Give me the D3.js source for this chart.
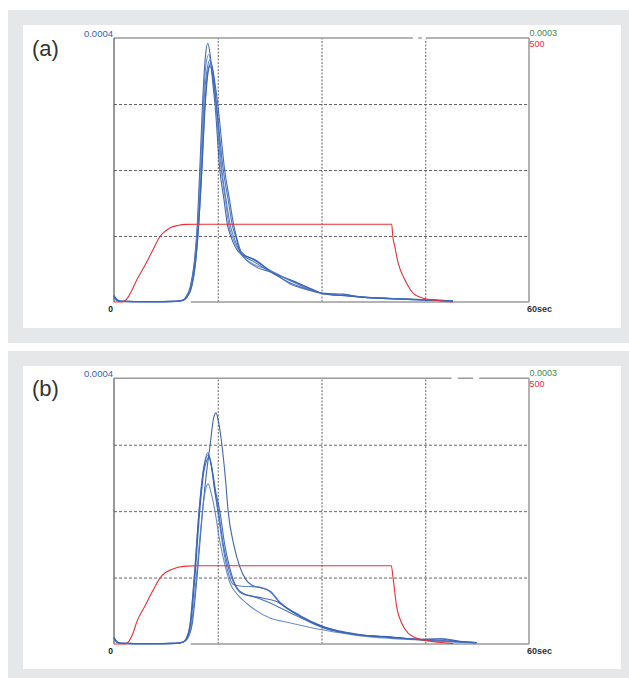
<!DOCTYPE html>
<html><head><meta charset="utf-8">
<script src="https://cdn.jsdelivr.net/npm/d3@7"></script>
<style>html,body{margin:0;padding:0;background:#fff;} svg{display:block;}</style>
</head><body><svg id="c" width="629" height="678"></svg>
<script>
// ---------- data (time in sec, blue values in units of 1e-4, red on 0-500 scale) ----------
const panelLabels = ["(a)", "(b)"];
const xTickLabels = ["0", "60sec"];
const leftTopLabel = "0.0004";
const rightTopLabels = ["0.0003", "500"];
const xGridTicks = [15, 30, 45];
const yGridTicks = [1, 2, 3];

const blueA1 = [[0,0.09],[0.4,0.03],[1,0.01],[5,0.005],[9,0.01],[10,0.03],[10.4,0.08],[11,0.22],[11.6,0.6],[12.0,1.1],[12.4,2.0],[12.8,3.0],[13.2,3.7],[13.55,3.92],[13.9,3.75],[14.3,3.3],[14.6,3.0],[15.3,2.0],[15.9,1.55],[16.4,1.17],[16.9,0.99],[18.2,0.74],[20.4,0.64],[23.0,0.44],[25.7,0.33],[28.1,0.22],[30.5,0.12],[33.9,0.09],[36.3,0.07],[38.9,0.06],[42.5,0.045],[46.1,0.03],[49,0.02]];
const blueA2 = [[0,0.08],[0.4,0.03],[1,0.01],[5,0.006],[9,0.01],[10,0.03],[10.5,0.08],[11.1,0.22],[11.7,0.6],[12.1,1.1],[12.6,2.0],[13.0,3.0],[13.5,3.55],[13.9,3.67],[14.3,3.5],[14.8,3.0],[15.6,2.0],[16.2,1.55],[16.8,1.17],[17.3,0.99],[18.2,0.76],[20.4,0.54],[23.0,0.44],[25.7,0.26],[28.1,0.18],[30.5,0.12],[33.9,0.1],[36.3,0.075],[38.9,0.06],[42.5,0.04],[46.1,0.03],[49,0.02]];
const blueA3 = [[0,0.1],[0.4,0.04],[1,0.01],[5,0.005],[9,0.01],[10,0.025],[10.6,0.08],[11.2,0.22],[11.8,0.6],[12.2,1.1],[12.7,2.0],[13.2,3.0],[13.6,3.48],[14.0,3.62],[14.4,3.45],[15.0,3.0],[16.0,2.0],[16.7,1.55],[17.3,1.17],[17.7,0.99],[18.4,0.76],[20.4,0.63],[23.0,0.45],[25.7,0.32],[28.1,0.21],[30.5,0.13],[33.2,0.12],[35,0.085],[38.9,0.055],[42.5,0.04],[46.1,0.025],[49,0.015]];
const blueA4 = [[0,0.07],[0.4,0.02],[1,0.01],[5,0.004],[9,0.008],[10,0.03],[10.5,0.08],[11.0,0.2],[11.6,0.55],[12.0,1.05],[12.5,2.0],[12.9,3.0],[13.3,3.6],[13.7,3.75],[14.1,3.55],[14.7,3.0],[15.5,2.0],[16.1,1.55],[16.6,1.17],[17.1,0.99],[18.2,0.75],[20.4,0.56],[22.0,0.5],[23.5,0.43],[25.7,0.31],[28.1,0.2],[30.5,0.12],[33.9,0.095],[36.3,0.07],[38.9,0.058],[42.5,0.042],[46.1,0.028],[49,0.018]];
const blueA5 = [[0,0.09],[0.4,0.03],[1,0.012],[5,0.006],[9,0.01],[10,0.03],[10.6,0.08],[11.2,0.22],[11.8,0.62],[12.2,1.1],[12.7,2.0],[13.1,2.9],[13.5,3.45],[13.85,3.58],[14.3,3.4],[14.9,2.9],[15.8,2.0],[16.5,1.55],[17.1,1.17],[17.6,0.99],[18.3,0.75],[20.4,0.6],[23.0,0.43],[25.7,0.28],[28.1,0.19],[30.5,0.125],[33.9,0.09],[36.3,0.068],[38.9,0.055],[42.5,0.04],[46.1,0.027],[49,0.015]];
const redA = [[0,0],[1.2,0],[1.8,5],[2.5,20],[3.3,42],[4.5,70],[5.6,98],[6.65,124],[7.4,134],[8.2,141],[9.2,145],[10.5,147],[12,147.2],[40.15,147.2],[40.3,125],[40.6,105],[41.1,73],[42.07,41.7],[43.27,16.5],[44.7,7],[46.1,3.8],[48.6,0.5],[49,0]];

const blueB1 = [[0,0.09],[0.4,0.03],[1,0.01],[5,0.005],[9,0.01],[10,0.03],[10.6,0.08],[11.3,0.3],[12.0,1.0],[12.8,2.0],[13.4,2.6],[13.9,3.0],[14.4,3.4],[14.75,3.48],[15.1,3.35],[15.6,3.0],[16.1,2.5],[16.5,2.0],[17.3,1.5],[18.2,1.16],[19.0,0.98],[20.0,0.88],[21.5,0.84],[22.55,0.79],[24.0,0.62],[26.9,0.42],[30.3,0.25],[35.1,0.14],[39.9,0.11],[44,0.07],[47.5,0.08],[50,0.04],[52.4,0.02]];
const blueB2 = [[0,0.08],[0.4,0.03],[1,0.01],[5,0.005],[9,0.01],[10,0.03],[10.4,0.08],[11.0,0.3],[11.6,1.0],[12.3,2.0],[12.9,2.6],[13.55,2.88],[14.0,2.72],[14.5,2.35],[15.0,2.0],[15.7,1.5],[16.3,1.16],[17.2,0.9],[18.5,0.87],[20.6,0.86],[22.55,0.8],[24.0,0.63],[26.9,0.43],[30.3,0.26],[35.1,0.14],[39.9,0.1],[44,0.065],[48,0.04],[52.4,0.02]];
const blueB3 = [[0,0.1],[0.4,0.04],[1,0.01],[5,0.005],[9,0.01],[10,0.03],[10.5,0.08],[11.1,0.3],[11.7,1.0],[12.4,2.0],[13.0,2.6],[13.75,2.81],[14.2,2.62],[14.7,2.3],[15.3,2.0],[16.0,1.5],[16.7,1.16],[17.5,0.9],[18.7,0.76],[21.6,0.69],[23.5,0.64],[25.4,0.51],[27.9,0.36],[30.3,0.26],[35.1,0.15],[39.9,0.1],[44,0.07],[47,0.075],[49.5,0.04],[52.4,0.02]];
const blueB4 = [[0,0.08],[0.4,0.03],[1,0.01],[5,0.005],[9,0.01],[10,0.03],[10.6,0.08],[11.2,0.3],[11.9,1.0],[12.6,1.8],[13.1,2.25],[13.6,2.41],[14.1,2.25],[14.6,2.0],[15.2,1.6],[16.1,1.16],[16.8,0.91],[17.8,0.75],[19.2,0.61],[22.55,0.39],[25.4,0.32],[30.3,0.21],[35.1,0.13],[39.9,0.085],[44,0.06],[48,0.035],[52.4,0.015]];
const blueB5 = [[0,0.09],[0.4,0.03],[1,0.01],[5,0.005],[9,0.01],[10,0.03],[10.5,0.08],[11.0,0.3],[11.6,1.0],[12.3,2.0],[12.9,2.6],[13.65,2.85],[14.1,2.68],[14.6,2.3],[15.1,2.0],[15.8,1.5],[16.5,1.16],[17.3,0.92],[18.2,0.78],[20.5,0.7],[22.5,0.62],[24.5,0.52],[26.9,0.4],[30.3,0.24],[35.1,0.14],[39.9,0.1],[44,0.07],[48,0.05],[52.4,0.02]];
const redB = [[0,0],[1.6,0],[2.2,6],[2.8,22],[3.3,42],[4.5,72],[5.6,100],[6.65,124],[7.4,134],[8.3,140],[9.3,144.5],[10.5,146.5],[12,147.2],[40.1,147.2],[40.35,124],[40.87,70],[41.6,39],[42.55,20],[43.8,10.6],[46.2,4.4],[48.6,1.3],[49,0.5]];

// ---------- drawing ----------
const svg = d3.select("#c");
const FONT = "'Liberation Sans', Arial, Helvetica, sans-serif";
const blueColors = ["#2a55aa", "#4a72c0", "#2f5cb2", "#5a80c8", "#3a64b6"];

const panels = [
  {label: panelLabels[0], blue: [blueA1, blueA2, blueA3, blueA4, blueA5], red: redA,
   grey: [8, 10, 640, 333], white: [23, 25, 598, 303], left: 114, right: 529, top: 38, bottom: 302,
   gaps: [[43.2, 44.0], [44.5, 45.1]]},
  {label: panelLabels[1], blue: [blueB1, blueB2, blueB3, blueB4, blueB5], red: redB,
   grey: [8, 351, 640, 340], white: [23, 366, 598, 303], left: 114, right: 529, top: 378.3, bottom: 644,
   gaps: [[48.8, 49.7], [51.9, 52.8]]}
];

panels.forEach(p => {
  svg.append("rect").attr("x", p.grey[0]).attr("y", p.grey[1]).attr("width", p.grey[2]).attr("height", p.grey[3]).attr("fill", "#e6e7e8");
  svg.append("rect").attr("x", p.white[0]).attr("y", p.white[1]).attr("width", p.white[2]).attr("height", p.white[3]).attr("fill", "#fff");

  const x = d3.scaleLinear().domain([0, 60]).range([p.left, p.right]);
  const yB = d3.scaleLinear().domain([0, 4]).range([p.bottom, p.top]);
  const yR = d3.scaleLinear().domain([0, 500]).range([p.bottom, p.top]);
  const g = svg.append("g");

  // horizontal grid
  const hg = g.append("g").attr("transform", `translate(${p.left},0)`)
    .call(d3.axisLeft(yB).tickValues(yGridTicks).tickSize(-(p.right - p.left)).tickFormat(""));
  hg.select(".domain").remove();
  hg.selectAll("line").attr("stroke", "#555").attr("stroke-width", 0.9).attr("stroke-dasharray", "3,2");
  // vertical grid
  const vg = g.append("g").attr("transform", `translate(0,${p.bottom})`)
    .call(d3.axisBottom(x).tickValues(xGridTicks).tickSize(-(p.bottom - p.top)).tickFormat(""));
  vg.select(".domain").remove();
  vg.selectAll("line").attr("stroke", "#666").attr("stroke-width", 1).attr("stroke-dasharray", "2,1.5");

  // frame
  g.append("line").attr("x1", x(0)).attr("x2", x(60)).attr("y1", p.top).attr("y2", p.top).attr("stroke", "#9a9a9a").attr("stroke-width", 1.5);
  p.gaps.forEach(gp => g.append("rect").attr("x", x(gp[0])).attr("y", p.top - 1.5).attr("width", x(gp[1]) - x(gp[0])).attr("height", 3).attr("fill", "#fff"));
  g.append("line").attr("x1", x(60)).attr("x2", x(60)).attr("y1", p.top).attr("y2", p.bottom).attr("stroke", "#9a9a9a").attr("stroke-width", 1.5);
  g.append("line").attr("x1", x(11.1)).attr("x2", x(60)).attr("y1", p.bottom).attr("y2", p.bottom).attr("stroke", "#9a9a9a").attr("stroke-width", 1.5);
  g.append("line").attr("x1", x(0)).attr("x2", x(0)).attr("y1", p.top).attr("y2", p.bottom).attr("stroke", "#555").attr("stroke-width", 1.2);

  // series
  const lineB = d3.line().x(d => x(d[0])).y(d => yB(d[1])).curve(d3.curveMonotoneX);
  const lineR = d3.line().x(d => x(d[0])).y(d => yR(d[1])).curve(d3.curveMonotoneX);
  p.blue.forEach((s, i) => {
    g.append("path").attr("d", lineB(s)).attr("fill", "none").attr("stroke", blueColors[i]).attr("stroke-width", 1.1).attr("stroke-opacity", 0.9);
  });
  g.append("path").attr("d", lineR(p.red)).attr("fill", "none").attr("stroke", "#ec2f36").attr("stroke-width", 1.1);

  // text
  svg.append("text").attr("x", 32).attr("y", p.top + 17.5).attr("font-family", FONT).attr("font-size", 22).attr("fill", "#333").text(p.label);
  svg.append("text").attr("x", x(0) - 1).attr("y", yB(4) - 1.5).attr("text-anchor", "end").attr("font-family", FONT).attr("font-size", 9.5).attr("fill", "#3a5fb0").text(leftTopLabel);
  svg.append("text").attr("x", x(60) + 0.5).attr("y", yR(500) - 2).attr("font-family", FONT).attr("font-size", 9).attr("fill", "#3d8a4a").text(rightTopLabels[0]);
  svg.append("text").attr("x", x(60) + 0.5).attr("y", yR(500) + 9).attr("font-family", FONT).attr("font-size", 9).attr("fill", "#e8303a").text(rightTopLabels[1]);
  svg.append("text").attr("x", x(0) - 1).attr("y", p.bottom + 9.5).attr("text-anchor", "end").attr("font-family", FONT).attr("font-size", 8.5).attr("font-weight", "bold").attr("fill", "#222").text(xTickLabels[0]);
  svg.append("text").attr("x", x(60) - 2).attr("y", p.bottom + 9.5).attr("font-family", FONT).attr("font-size", 9).attr("font-weight", "bold").attr("fill", "#333").text(xTickLabels[1]);
});
</script>
</body></html>
